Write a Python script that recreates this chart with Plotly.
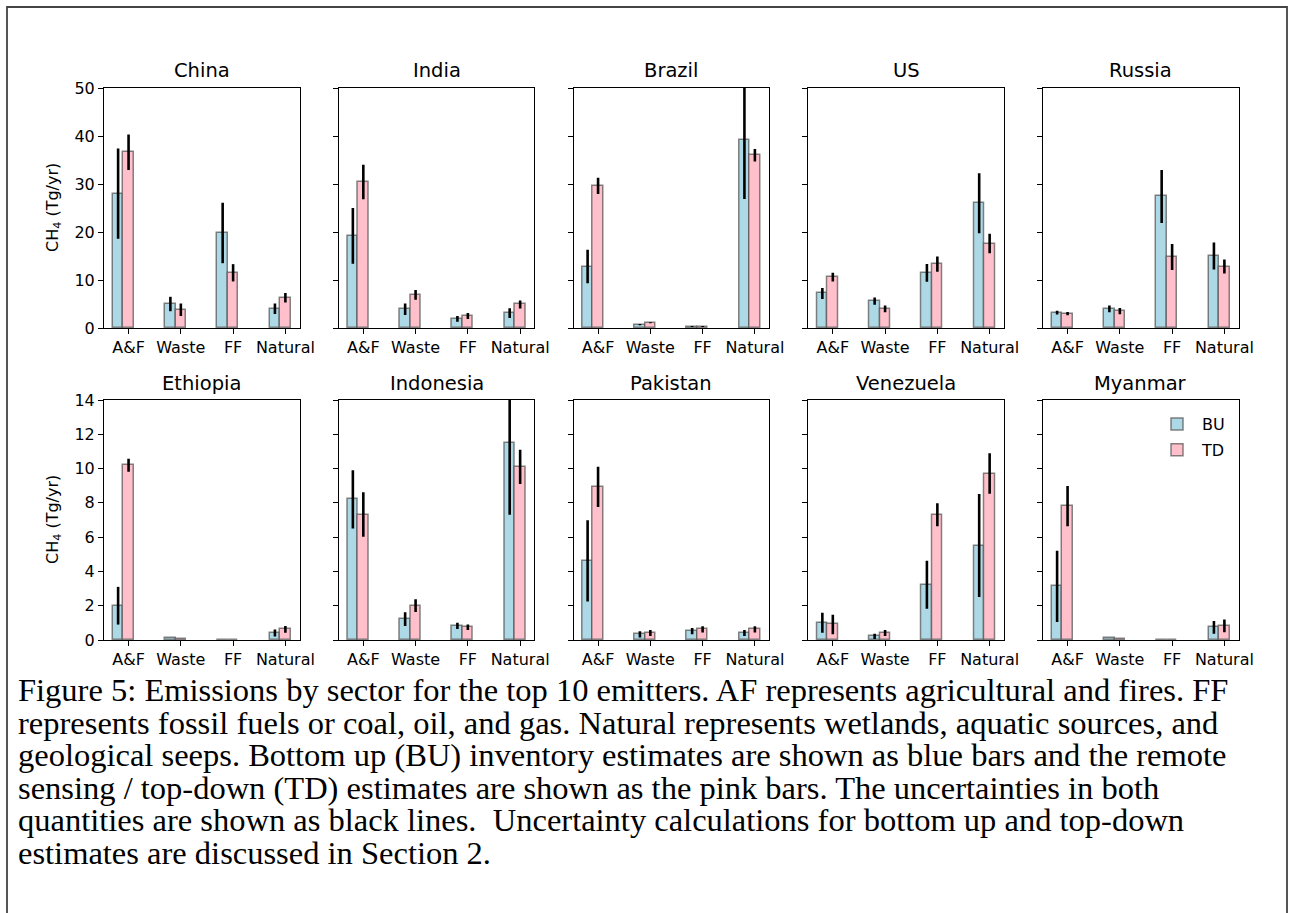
import plotly.graph_objects as go

# ---------------- data ----------------
sectors = ["A&F", "Waste", "FF", "Natural"]
countries = ["China", "India", "Brazil", "US", "Russia",
             "Ethiopia", "Indonesia", "Pakistan", "Venezuela", "Myanmar"]

bu_china = [28.0, 5.0, 19.8, 4.0]
bu_china_err = [9.4, 1.5, 6.3, 1.1]
td_china = [36.6, 3.8, 11.5, 6.3]
td_china_err = [3.7, 1.3, 1.8, 1.0]

bu_india = [19.2, 3.9, 1.9, 3.1]
bu_india_err = [5.8, 1.2, 0.6, 1.0]
td_india = [30.4, 6.9, 2.5, 4.9]
td_india_err = [3.6, 1.0, 0.6, 0.85]

bu_brazil = [12.8, 0.7, 0.3, 39.2]
bu_brazil_err = [3.5, 0.15, 0.1, 12.3]
td_brazil = [29.6, 1.1, 0.3, 36.0]
td_brazil_err = [1.7, 0.1, 0.1, 1.3]

bu_us = [7.2, 5.6, 11.5, 26.0]
bu_us_err = [1.15, 0.75, 1.85, 6.25]
td_us = [10.6, 4.0, 13.3, 17.6]
td_us_err = [0.9, 0.7, 1.6, 2.05]

bu_russia = [3.2, 4.0, 27.4, 15.0]
bu_russia_err = [0.4, 0.7, 5.5, 2.8]
td_russia = [3.0, 3.5, 14.8, 12.8]
td_russia_err = [0.35, 0.65, 2.7, 1.45]

bu_ethiopia = [2.0, 0.1, 0.02, 0.41]
bu_ethiopia_err = [1.1, 0.0, 0.0, 0.2]
td_ethiopia = [10.2, 0.08, 0.02, 0.62]
td_ethiopia_err = [0.38, 0.0, 0.0, 0.2]

bu_indonesia = [8.2, 1.22, 0.82, 11.5]
bu_indonesia_err = [1.7, 0.4, 0.18, 4.2]
td_indonesia = [7.32, 2.0, 0.74, 10.1]
td_indonesia_err = [1.3, 0.37, 0.16, 1.0]

bu_pakistan = [4.62, 0.33, 0.52, 0.41]
bu_pakistan_err = [2.37, 0.18, 0.18, 0.18]
td_pakistan = [8.93, 0.41, 0.62, 0.62]
td_pakistan_err = [1.17, 0.18, 0.18, 0.18]

bu_venezuela = [1.01, 0.21, 3.22, 5.51]
bu_venezuela_err = [0.58, 0.15, 1.4, 3.0]
td_venezuela = [0.91, 0.41, 7.3, 9.71]
td_venezuela_err = [0.57, 0.18, 0.67, 1.18]

bu_myanmar = [3.13, 0.1, 0.02, 0.74]
bu_myanmar_err = [2.08, 0.0, 0.0, 0.37]
td_myanmar = [7.81, 0.08, 0.02, 0.82]
td_myanmar_err = [1.17, 0.0, 0.0, 0.37]

bu_all = [bu_china, bu_india, bu_brazil, bu_us, bu_russia,
          bu_ethiopia, bu_indonesia, bu_pakistan, bu_venezuela, bu_myanmar]
bu_err_all = [bu_china_err, bu_india_err, bu_brazil_err, bu_us_err, bu_russia_err,
              bu_ethiopia_err, bu_indonesia_err, bu_pakistan_err, bu_venezuela_err, bu_myanmar_err]
td_all = [td_china, td_india, td_brazil, td_us, td_russia,
          td_ethiopia, td_indonesia, td_pakistan, td_venezuela, td_myanmar]
td_err_all = [td_china_err, td_india_err, td_brazil_err, td_us_err, td_russia_err,
              td_ethiopia_err, td_indonesia_err, td_pakistan_err, td_venezuela_err, td_myanmar_err]

row_ymax = [50, 14]
row_dtick = [10, 2]

caption_lines = [
    "Figure 5: Emissions by sector for the top 10 emitters. AF represents agricultural and fires. FF",
    "represents fossil fuels or coal, oil, and gas. Natural represents wetlands, aquatic sources, and",
    "geological seeps. Bottom up (BU) inventory estimates are shown as blue bars and the remote",
    "sensing / top-down (TD) estimates are shown as the pink bars. The uncertainties in both",
    "quantities are shown as black lines.\u00a0 Uncertainty calculations for bottom up and top-down",
    "estimates are discussed in Section 2.",
]

# ---------------- layout geometry (pixels) ----------------
W, H = 1289, 913
panel_left0 = 104
panel_w = 195.5
panel_step = 234.75
row_top = [88, 400]
row_bot = [328, 640]

BU_COLOR = "#ADD8E6"
TD_COLOR = "#FFC0CB"
EDGE = "rgba(80,80,80,0.7)"
FONT = "DejaVu Sans"

def px_x(p):
    return p / W

def px_y(p):
    return 1 - p / H

fig = go.Figure()
positions = list(range(len(sectors)))

for i, country in enumerate(countries):
    k = i + 1
    xa = "x" if k == 1 else f"x{k}"
    ya = "y" if k == 1 else f"y{k}"
    fig.add_trace(go.Bar(
        x=positions, y=bu_all[i], offset=-0.3, width=0.2,
        name="BU", legendgroup="BU", showlegend=(i == 0),
        marker=dict(color=BU_COLOR, line=dict(color=EDGE, width=1.5)),
        error_y=dict(type="data", array=bu_err_all[i], color="black", thickness=2.6, width=0),
        xaxis=xa, yaxis=ya, hoverinfo="skip"))
    fig.add_trace(go.Bar(
        x=positions, y=td_all[i], offset=-0.1, width=0.2,
        name="TD", legendgroup="TD", showlegend=(i == 0),
        marker=dict(color=TD_COLOR, line=dict(color=EDGE, width=1.5)),
        error_y=dict(type="data", array=td_err_all[i], color="black", thickness=2.6, width=0),
        xaxis=xa, yaxis=ya, hoverinfo="skip"))

layout_axes = {}
annotations = []
for i, country in enumerate(countries):
    k = i + 1
    r, c = divmod(i, 5)
    x0 = panel_left0 + c * panel_step
    x1 = x0 + panel_w
    xname = "xaxis" if k == 1 else f"xaxis{k}"
    yname = "yaxis" if k == 1 else f"yaxis{k}"
    layout_axes[xname] = dict(
        domain=[px_x(x0), px_x(x1)], anchor="y" if k == 1 else f"y{k}",
        range=[-0.47, 3.27], tickmode="array", tickvals=positions, ticktext=sectors,
        ticks="outside", ticklen=5, tickwidth=1, tickcolor="black",
        showline=True, mirror=True, linecolor="black", linewidth=1,
        showgrid=False, zeroline=False, automargin=False,
        tickfont=dict(family=FONT, size=16, color="black"), fixedrange=True)
    layout_axes[yname] = dict(
        domain=[px_y(row_bot[r]), px_y(row_top[r])], anchor="x" if k == 1 else f"x{k}",
        range=[0, row_ymax[r]], dtick=row_dtick[r], tick0=0,
        ticks="outside", ticklen=5, tickwidth=1, tickcolor="black",
        showline=True, mirror=True, linecolor="black", linewidth=1,
        showgrid=False, zeroline=False, showticklabels=(c == 0), automargin=False,
        tickfont=dict(family=FONT, size=16, color="black"), fixedrange=True)
    annotations.append(dict(
        text=country, x=px_x((x0 + x1) / 2), y=px_y(row_top[r] - 17),
        xref="paper", yref="paper", xanchor="center", yanchor="middle",
        showarrow=False, font=dict(family=FONT, size=19.5, color="black")))

for r in range(2):
    annotations.append(dict(
        text="CH<sub>4</sub> (Tg/yr)", x=px_x(53), y=px_y((row_top[r] + row_bot[r]) / 2),
        xref="paper", yref="paper", xanchor="center", yanchor="middle", textangle=-90,
        showarrow=False, font=dict(family=FONT, size=16, color="black")))

cap_y0 = 690
cap_step = 32.6
for j, line in enumerate(caption_lines):
    annotations.append(dict(
        text=line, x=px_x(16), y=px_y(cap_y0 + j * cap_step),
        xref="paper", yref="paper", xanchor="left", yanchor="middle",
        showarrow=False, font=dict(family="Liberation Serif", size=32.5, color="black")))

fig.update_layout(
    width=W, height=H,
    margin=dict(l=0, r=0, t=0, b=0, pad=0),
    paper_bgcolor="white", plot_bgcolor="white",
    barmode="overlay", bargap=0,
    showlegend=True,
    legend=dict(x=px_x(1152), y=px_y(407), xanchor="left", yanchor="top",
                bgcolor="rgba(0,0,0,0)", borderwidth=0,
                font=dict(family=FONT, size=16, color="black"),
                itemwidth=40, tracegroupgap=2),
    annotations=annotations,
    shapes=[dict(type="path", xref="paper", yref="paper",
                 path=f"M {px_x(7)},0 L {px_x(7)},{px_y(7)} L {px_x(1287)},{px_y(7)} L {px_x(1287)},0",
                 line=dict(color="#444444", width=1.8))],
    **layout_axes,
)

fig.write_html(
    "out.html",
    post_script="document.body.style.margin='0';document.body.style.overflow='hidden';",
)
